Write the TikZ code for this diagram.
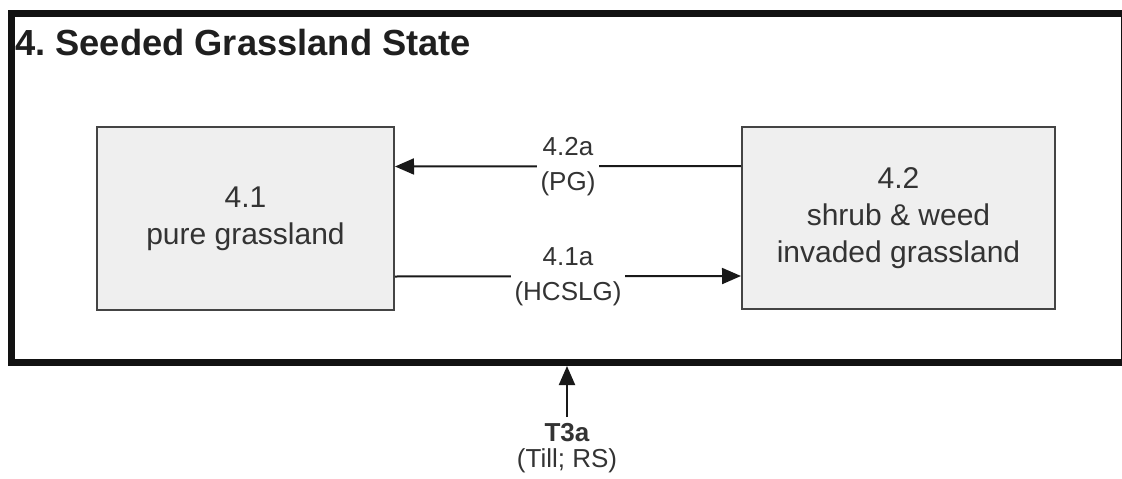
\documentclass[tikz,border=0pt]{standalone}
\usepackage{fontspec}
\setmainfont{Liberation Sans}
\usetikzlibrary{arrows.meta}
\definecolor{boxfill}{HTML}{EFEFEF}
\definecolor{boxline}{HTML}{444444}
\definecolor{txt}{HTML}{333333}
\frenchspacing
\tikzset{
  statebox/.style={draw=boxline, line width=2pt, fill=boxfill, inner sep=0pt,
    align=center, text=txt, font=\fontsize{30}{37}\selectfont},
  frame/.style={draw=black!93, line width=7pt, inner sep=0pt},
  trans/.style={draw=black!90, line width=2pt, -{Triangle[length=19pt,width=16pt]}},
  tlabel/.style={fill=white, align=center, text=txt, inner xsep=4pt, inner ysep=0pt,
    font=\fontsize{26}{35}\selectfont},
}
\begin{document}
\begin{tikzpicture}[x=1pt,y=-1pt]
\useasboundingbox (0,0) rectangle (1122,479);
\fill[white] (0,0) rectangle (1122,479);
\node[frame, minimum width=1113pt, minimum height=349pt] (state) at (567.5,188) {};
\node[anchor=base west, font=\fontsize{36.3}{40}\selectfont\bfseries, text=black!88, inner sep=0pt]
  (title) at (15,55) {4. Seeded Grassland State};
\node[statebox, minimum width=297pt, minimum height=183pt] (b41) at (245.5,218.5)
  {4.1\\pure grassland};
\node[statebox, minimum width=313pt, minimum height=182pt] (b42) at (898.5,218)
  {4.2\\shrub \& weed\\invaded grassland};
\draw[trans] ([yshift=52pt]b42.west) -- ([yshift=52pt]b41.east)
  node[tlabel, midway] (l42a) {4.2a\\(PG)};
\draw[trans] ([yshift=-58pt]b41.east) -- ([yshift=-58pt]b42.west)
  node[tlabel, midway] (l41a) {4.1a\\(HCSLG)};
\node[anchor=north, align=center, text=txt, inner sep=0pt,
  font=\fontsize{26}{26}\selectfont] (t3) at (567,423) {\textbf{T3a}\\(Till; RS)};
\draw[trans] (t3.north) ++(0,-6) -- (state.south -| t3.north);
\end{tikzpicture}
\end{document}
